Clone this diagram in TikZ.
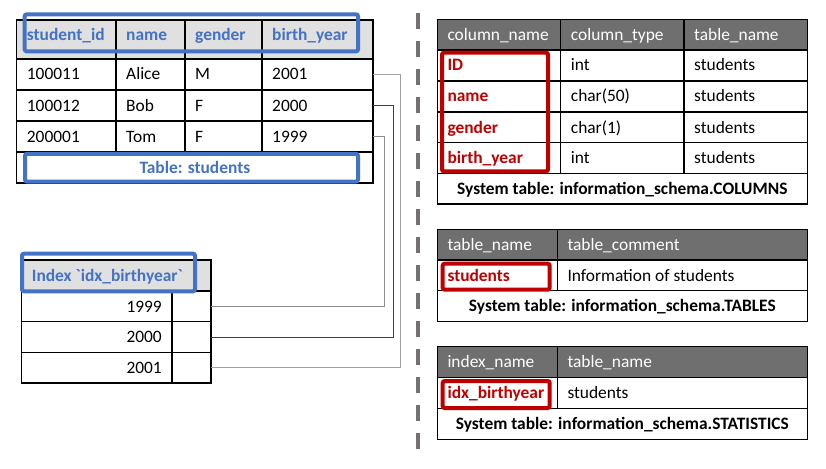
\documentclass[tikz,border=0pt]{standalone}
\usepackage{fontspec}
\setmainfont{Carlito}[Ligatures=TeXOff]
\definecolor{hdrlight}{HTML}{E0E0E0}
\definecolor{hdrdark}{HTML}{6F6F6F}
\definecolor{bluehl}{HTML}{4472C4}
\definecolor{redhl}{HTML}{C00000}
\definecolor{dashgray}{HTML}{767171}
\definecolor{conn1}{HTML}{A0A0A0}
\definecolor{conn2}{HTML}{404040}
\definecolor{conn3}{HTML}{8C8C8C}
\newcommand\cel[6]{\node[cell,#6,minimum width={#4-#2},minimum height={#5-#3},anchor=north west] (#1) at (#2,#3) {};}
\newcommand\tl[4]{\node[txt,#3,anchor=base west] (#1) at ([xshift=10pt,yshift=-21pt]#2.north west) {#4};}
\newcommand\tr[4]{\node[txt,#3,anchor=base east] (#1) at ([xshift=-10pt,yshift=-21pt]#2.north east) {#4};}
\newcommand\tc[4]{\node[txt,#3,anchor=base] (#1) at ([yshift=-21pt]#2.north) {#4};}
\begin{document}
\begin{tikzpicture}[x=1pt,y=-1pt,
  cell/.style={draw=black,line width=1.1pt,inner sep=0pt,outer sep=0pt},
  lhdr/.style={fill=hdrlight},
  dhdr/.style={fill=hdrdark},
  txt/.style={inner sep=0pt,font=\fontsize{17.4}{20}\selectfont},
  bluet/.style={text=bluehl,font=\fontsize{17.4}{20}\selectfont\bfseries},
  redt/.style={text=redhl,font=\fontsize{17.4}{20}\selectfont\bfseries},
  whitet/.style={text=white},
  boldt/.style={font=\fontsize{17.4}{20}\selectfont\bfseries},
  bluebox/.style={draw=bluehl,line width=4pt,rounded corners=2pt},
  redbox/.style={draw=redhl,line width=4pt,rounded corners=2pt},
  conn/.style={line width=1pt},
  divider/.style={draw=dashgray,line width=4pt,dash pattern=on 16pt off 12pt}]
\useasboundingbox (0,0) rectangle (826,468);
% ---------- students table ----------
\cel{sh1}{16.7}{20}{116}{59}{lhdr}
\cel{sh2}{116}{20}{185}{59}{lhdr}
\cel{sh3}{185}{20}{262}{59}{lhdr}
\cel{sh4}{262}{20}{373}{59}{lhdr}
\cel{sa1}{16.7}{59}{116}{90}{}
\cel{sa2}{116}{59}{185}{90}{}
\cel{sa3}{185}{59}{262}{90}{}
\cel{sa4}{262}{59}{373}{90}{}
\cel{sb1}{16.7}{90}{116}{121}{}
\cel{sb2}{116}{90}{185}{121}{}
\cel{sb3}{185}{90}{262}{121}{}
\cel{sb4}{262}{90}{373}{121}{}
\cel{sc1}{16.7}{121}{116}{152}{}
\cel{sc2}{116}{121}{185}{152}{}
\cel{sc3}{185}{121}{262}{152}{}
\cel{sc4}{262}{121}{373}{152}{}
\cel{sf}{16.7}{152}{373}{183}{}
\tl{tsh1}{sh1}{bluet}{student\_id}
\tl{tsh2}{sh2}{bluet}{name}
\tl{tsh3}{sh3}{bluet}{gender}
\tl{tsh4}{sh4}{bluet}{birth\_year}
\tl{tsa1}{sa1}{}{100011}
\tl{tsa2}{sa2}{}{Alice}
\tl{tsa3}{sa3}{}{M}
\tl{tsa4}{sa4}{}{2001}
\tl{tsb1}{sb1}{}{100012}
\tl{tsb2}{sb2}{}{Bob}
\tl{tsb3}{sb3}{}{F}
\tl{tsb4}{sb4}{}{2000}
\tl{tsc1}{sc1}{}{200001}
\tl{tsc2}{sc2}{}{Tom}
\tl{tsc3}{sc3}{}{F}
\tl{tsc4}{sc4}{}{1999}
\tc{tsf}{sf}{bluet}{Table: students}
\draw[bluebox] (24.7,14.3) rectangle (358,51.3);
\draw[bluebox] (25,153.8) rectangle (358,181.5);
% ---------- index table ----------
\cel{ih}{21.7}{260}{211}{291}{lhdr}
\cel{ia1}{21.7}{291}{172}{321.7}{}
\cel{ia2}{172}{291}{211}{321.7}{}
\cel{ib1}{21.7}{321.7}{172}{352.7}{}
\cel{ib2}{172}{321.7}{211}{352.7}{}
\cel{ic1}{21.7}{352.7}{172}{383}{}
\cel{ic2}{172}{352.7}{211}{383}{}
\tl{tih}{ih}{bluet}{Index \symbol{96}idx\_birthyear\symbol{96}}
\tr{tia}{ia1}{}{1999}
\tr{tib}{ib1}{}{2000}
\tr{tic}{ic1}{}{2001}
\draw[bluebox] (22,253.7) rectangle (195,291.3);
% ---------- connectors ----------
\draw[conn,draw=conn1] (sa4.east) -- ++(27,0) |- (ic2.east);
\draw[conn,draw=conn2] (sb4.east) -- ++(20,0) |- (ib2.east);
\draw[conn,draw=conn3] (sc4.east) -- ++(11,0) |- (ia2.east);
% ---------- divider ----------
\draw[divider] (418,13.3) -- (418,452);
% ---------- COLUMNS ----------
\cel{ch1}{437.3}{19.3}{560.7}{50}{dhdr}
\cel{ch2}{560.7}{19.3}{684}{50}{dhdr}
\cel{ch3}{684}{19.3}{807.3}{50}{dhdr}
\cel{ca1}{437.3}{50}{560.7}{81}{}
\cel{ca2}{560.7}{50}{684}{81}{}
\cel{ca3}{684}{50}{807.3}{81}{}
\cel{cb1}{437.3}{81}{560.7}{112}{}
\cel{cb2}{560.7}{81}{684}{112}{}
\cel{cb3}{684}{81}{807.3}{112}{}
\cel{cc1}{437.3}{112}{560.7}{142.7}{}
\cel{cc2}{560.7}{112}{684}{142.7}{}
\cel{cc3}{684}{112}{807.3}{142.7}{}
\cel{cd1}{437.3}{142.7}{560.7}{173.3}{}
\cel{cd2}{560.7}{142.7}{684}{173.3}{}
\cel{cd3}{684}{142.7}{807.3}{173.3}{}
\cel{cf}{437.3}{173.3}{807.3}{204}{}
\tl{tch1}{ch1}{whitet}{column\_name}
\tl{tch2}{ch2}{whitet}{column\_type}
\tl{tch3}{ch3}{whitet}{table\_name}
\tl{tca1}{ca1}{redt}{ID}
\tl{tca2}{ca2}{}{int}
\tl{tca3}{ca3}{}{students}
\tl{tcb1}{cb1}{redt}{name}
\tl{tcb2}{cb2}{}{char(50)}
\tl{tcb3}{cb3}{}{students}
\tl{tcc1}{cc1}{redt}{gender}
\tl{tcc2}{cc2}{}{char(1)}
\tl{tcc3}{cc3}{}{students}
\tl{tcd1}{cd1}{redt}{birth\_year}
\tl{tcd2}{cd2}{}{int}
\tl{tcd3}{cd3}{}{students}
\tc{tcf}{cf}{boldt}{System table: information\_schema.COLUMNS}
\draw[redbox] (442,52.7) rectangle (548,171.3);
% ---------- TABLES ----------
\cel{th1}{437.3}{229.3}{557.3}{260}{dhdr}
\cel{th2}{557.3}{229.3}{807.3}{260}{dhdr}
\cel{ta1}{437.3}{260}{557.3}{290.7}{}
\cel{ta2}{557.3}{260}{807.3}{290.7}{}
\cel{tf}{437.3}{290.7}{807.3}{321.7}{}
\tl{tth1}{th1}{whitet}{table\_name}
\tl{tth2}{th2}{whitet}{table\_comment}
\tl{tta1}{ta1}{redt}{students}
\tl{tta2}{ta2}{}{Information of students}
\tc{ttf}{tf}{boldt}{System table: information\_schema.TABLES}
\draw[redbox] (442.7,263.7) rectangle (549.7,289.7);
% ---------- STATISTICS ----------
\cel{xh1}{437.3}{346.7}{557.3}{377.3}{dhdr}
\cel{xh2}{557.3}{346.7}{807.3}{377.3}{dhdr}
\cel{xa1}{437.3}{377.3}{557.3}{408.3}{}
\cel{xa2}{557.3}{377.3}{807.3}{408.3}{}
\cel{xf}{437.3}{408.3}{807.3}{439.3}{}
\tl{txh1}{xh1}{whitet}{index\_name}
\tl{txh2}{xh2}{whitet}{table\_name}
\tl{txa1}{xa1}{redt}{idx\_birthyear}
\tl{txa2}{xa2}{}{students}
\tc{txf}{xf}{boldt}{System table: information\_schema.STATISTICS}
\draw[redbox] (442.7,381) rectangle (549.7,408);
\end{tikzpicture}
\end{document}
